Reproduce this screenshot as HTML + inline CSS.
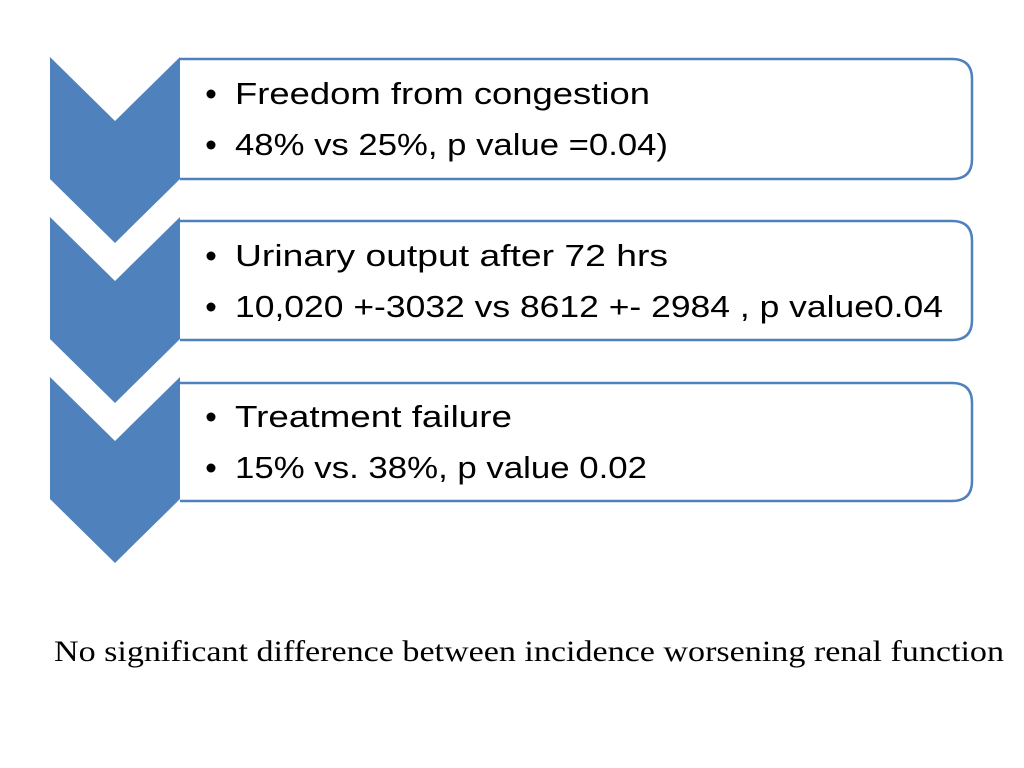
<!DOCTYPE html>
<html><head><meta charset="utf-8"><style>html,body{margin:0;padding:0;background:#fff;width:1024px;height:768px;overflow:hidden}</style></head>
<body>
<svg width="1024" height="768" viewBox="0 0 1024 768">
  <g fill="#4F81BD">
    <polygon points="50,57 115,121 180,57 180,179 115,243 50,179"/>
    <polygon points="50,217 115,281 180,217 180,339 115,403 50,339"/>
    <polygon points="50,377 115,441 180,377 180,499 115,563 50,499"/>
  </g>
  <g fill="#fff" stroke="#4F81BD" stroke-width="2.5">
    <path d="M180,59 H952 Q972,59 972,79 V159 Q972,179 952,179 H180"/>
    <path d="M180,221 H952 Q972,221 972,241 V320 Q972,340 952,340 H180"/>
    <path d="M180,383 H952 Q972,383 972,403 V481 Q972,501 952,501 H180"/>
  </g>
  <g font-family="'Liberation Sans', sans-serif" font-size="31" fill="#000">
    <g>
      <circle cx="211" cy="94" r="4.5"/><circle cx="211" cy="145" r="4.5"/>
      <circle cx="211" cy="256" r="4.5"/><circle cx="211" cy="307" r="4.5"/>
      <circle cx="211" cy="417" r="4.5"/><circle cx="211" cy="468" r="4.5"/>
    </g>
    <text x="235" y="104" textLength="415" lengthAdjust="spacingAndGlyphs">Freedom from congestion</text>
    <text x="235" y="155" textLength="433" lengthAdjust="spacingAndGlyphs">48% vs 25%, p value =0.04)</text>
    <text x="235" y="266" textLength="433" lengthAdjust="spacingAndGlyphs">Urinary output after 72 hrs</text>
    <text x="235" y="317" textLength="708" lengthAdjust="spacingAndGlyphs">10,020 +-3032 vs 8612 +- 2984 , p value0.04</text>
    <text x="235" y="427" textLength="277" lengthAdjust="spacingAndGlyphs">Treatment failure</text>
    <text x="235" y="478" textLength="412" lengthAdjust="spacingAndGlyphs">15% vs. 38%, p value 0.02</text>
  </g>
  <text x="54" y="661" font-family="'Liberation Serif', serif" font-size="30" fill="#000" textLength="950" lengthAdjust="spacingAndGlyphs">No significant difference between incidence worsening renal function</text>
</svg>
</body></html>
